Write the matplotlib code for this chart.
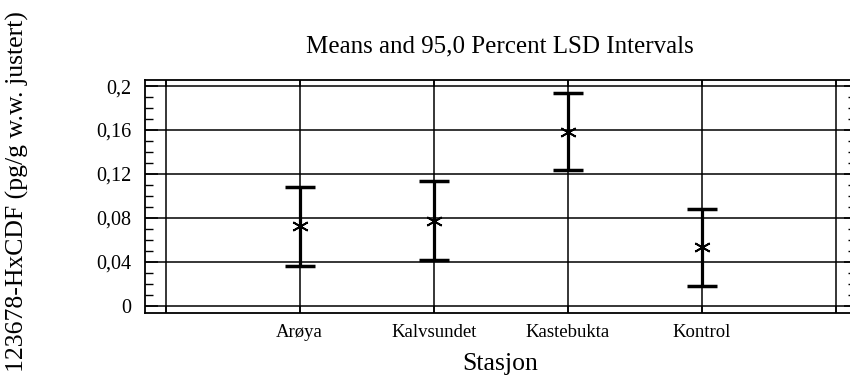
import matplotlib
matplotlib.use("Agg")
import matplotlib.pyplot as plt
from matplotlib.ticker import MultipleLocator, FixedLocator

categories = ["Arøya", "Kalvsundet", "Kastebukta", "Kontrol"]
means = [0.0725, 0.0777, 0.1586, 0.0532]
lower = [0.0364, 0.0418, 0.1236, 0.0182]
upper = [0.1080, 0.1136, 0.1936, 0.0882]
yticks = [0, 0.04, 0.08, 0.12, 0.16, 0.2]
ytick_labels = ["0", "0,04", "0,08", "0,12", "0,16", "0,2"]

plt.rcParams['font.family'] = ['Liberation Serif', 'DejaVu Serif']

W, H = 850, 382
fig = plt.figure(figsize=(W / 100, H / 100), dpi=100)
ax = fig.add_axes([145 / W, (H - 313) / H, (856 - 145) / W, (313 - 80) / H])

x = list(range(1, len(categories) + 1))
yerr_lo = [m - l for m, l in zip(means, lower)]
yerr_hi = [u - m for m, u in zip(means, upper)]
ax.errorbar(x, means, yerr=[yerr_lo, yerr_hi], fmt='none', ecolor='black',
            elinewidth=2.3, capsize=11, capthick=2.5, zorder=3)
ax.plot(x, means, linestyle='none', marker=(6, 2, 0), markersize=12,
        markeredgecolor='black', markeredgewidth=1.3, color='black', zorder=4)

ax.set_xlim(-0.154, 5.151)
ax.set_ylim(-0.0064, 0.2055)

ax.xaxis.set_major_locator(FixedLocator([0, 1, 2, 3, 4, 5]))
ax.set_xticklabels([""] + categories + [""], fontsize=13.5)
ax.yaxis.set_major_locator(FixedLocator(yticks))
ax.set_yticklabels(ytick_labels, fontsize=14.5)
ax.yaxis.set_minor_locator(MultipleLocator(0.01))

ax.tick_params(axis='y', which='major', direction='in', length=9, width=1.1,
               left=True, right=True, pad=10)
ax.tick_params(axis='y', which='minor', direction='in', length=6, width=1.0,
               left=True, right=True)
ax.tick_params(axis='x', which='major', direction='in', length=5, width=1.1,
               top=True, bottom=True, pad=8)

ax.grid(True, which='major', axis='both', color='black', linewidth=1.1)
ax.set_axisbelow(True)
for s in ax.spines.values():
    s.set_linewidth(1.3)
    s.set_color('black')

fig.text(500 / W, 1 - 52 / H, "Means and 95,0 Percent LSD Intervals",
         ha='center', va='baseline', fontsize=18)
fig.text(500 / W, 1 - 370 / H, "Stasjon", ha='center', va='baseline', fontsize=18.5)
fig.text(17 / W, 1 - 192 / H, "123678-HxCDF (pg/g w.w. justert)",
         ha='center', va='center', rotation=90, fontsize=18.5)

fig.savefig("out.png", dpi=100)
